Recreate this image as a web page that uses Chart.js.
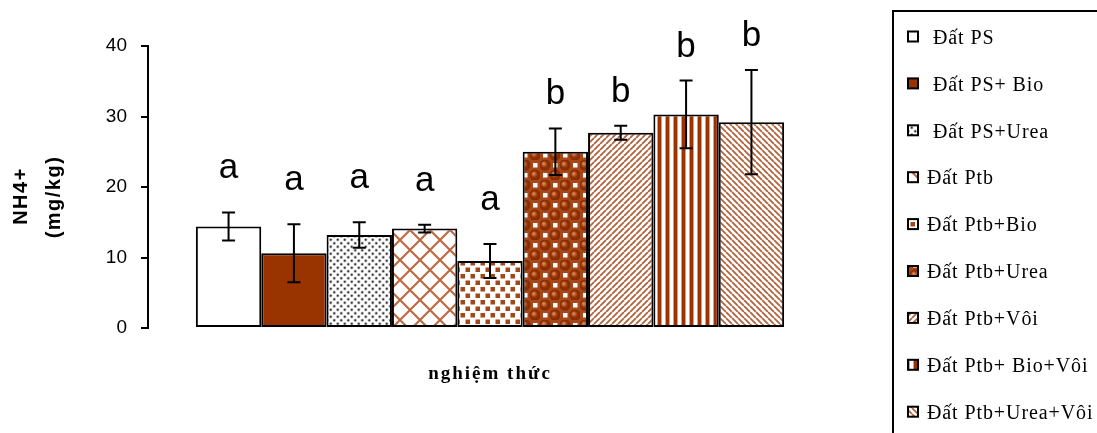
<!DOCTYPE html>
<html>
<head>
<meta charset="utf-8">
<script src="https://cdn.jsdelivr.net/npm/chart.js@4/dist/chart.umd.min.js"></script>
<style>
  html, body { margin: 0; padding: 0; background: #fff; }
  canvas { display: block; }
</style>
</head>
<body>
<canvas id="c" width="1097" height="433"></canvas>
<script>
// Treatments (legend entries, one bar each)
const treatments = [' Đất PS', ' Đất PS+ Bio', ' Đất PS+Urea', 'Đất Ptb', 'Đất Ptb+Bio',
                    'Đất Ptb+Urea', 'Đất Ptb+Vôi', 'Đất Ptb+ Bio+Vôi', 'Đất Ptb+Urea+Vôi'];
// NH4+ means (mg/kg) and error half-widths
const nh4Means  = [14.4, 10.6, 13.2, 14.1, 9.5, 25.0, 27.7, 30.3, 29.2];
const nh4Errors = [2.0, 4.1, 1.8, 0.55, 2.4, 3.3, 1.0, 4.8, 7.4];
// Statistical grouping letters
const groupLetters = ['a', 'a', 'a', 'a', 'a', 'b', 'b', 'b', 'b'];
// Y axis ticks
const yTicks = [0, 10, 20, 30, 40];

const BROWN = '#993300';
const canvas = document.getElementById('c');
const ctx0 = canvas.getContext('2d');

function tile(w, h, draw) {
  const c = document.createElement('canvas');
  c.width = w; c.height = h;
  const g = c.getContext('2d');
  g.fillStyle = '#fff';
  g.fillRect(0, 0, w, h);
  draw(g, w, h);
  return ctx0.createPattern(c, 'repeat');
}
function dot(g, x, y, r) { g.beginPath(); g.arc(x, y, r, 0, Math.PI * 2); g.fill(); }

const fills = [
  '#ffffff',
  BROWN,
  // fine dotted
  tile(7, 7, g => {
    g.fillStyle = '#c8c8c8'; dot(g, 1.75, 1.75, 1.8); dot(g, 5.25, 5.25, 1.8);
    g.fillStyle = '#333'; dot(g, 1.75, 1.75, 1.0); dot(g, 5.25, 5.25, 1.0);
  }),
  // diagonal crosshatch
  tile(20, 20, g => {
    g.strokeStyle = 'rgba(170,70,20,0.8)'; g.lineWidth = 2.2;
    g.beginPath();
    g.moveTo(0, 0); g.lineTo(20, 20);
    g.moveTo(20, 0); g.lineTo(0, 20);
    g.stroke();
  }),
  // small squares
  tile(10, 13, g => {
    g.fillStyle = 'rgba(153,51,0,0.9)';
    g.fillRect(0.5, 1, 4.5, 4.5); g.fillRect(5.5, 7.5, 4.5, 4.5);
  }),
  // spheres
  tile(20, 20, g => {
    g.fillStyle = '#a8471a'; g.fillRect(0, 0, 20, 20);
    g.fillStyle = '#fff'; g.fillRect(13, 3, 4.5, 4.5); g.fillRect(3, 13, 4.5, 4.5);
    [[5, 5], [15, 15]].forEach(([cx, cy]) => {
      const gr = g.createRadialGradient(cx - 1.5, cy - 1.5, 0.5, cx, cy, 5.8);
      gr.addColorStop(0, '#d98a60'); gr.addColorStop(0.5, BROWN); gr.addColorStop(1, '#7a2800');
      g.fillStyle = gr; dot(g, cx, cy, 5.5);
    });
  }),
  // upward diagonal stripes
  tile(6, 6, g => {
    g.strokeStyle = 'rgba(160,60,10,0.8)'; g.lineWidth = 1.8;
    g.beginPath();
    for (let k = -1; k <= 1; k++) { g.moveTo(k * 6, 6); g.lineTo(k * 6 + 6, 0); }
    g.stroke();
  }),
  // vertical stripes
  tile(8, 2, g => {
    g.fillStyle = '#d9a080'; g.fillRect(1, 0, 1, 2); g.fillRect(5, 0, 1, 2);
    g.fillStyle = BROWN; g.fillRect(2, 0, 3, 2);
  }),
  // downward diagonal stripes
  tile(6, 6, g => {
    g.strokeStyle = 'rgba(160,60,10,0.8)'; g.lineWidth = 1.8;
    g.beginPath();
    for (let k = -1; k <= 1; k++) { g.moveTo(k * 6, 0); g.lineTo(k * 6 + 6, 6); }
    g.stroke();
  })
];

const datasets = treatments.map((name, i) => ({
  label: name.trim(),
  data: [nh4Means[i]],
  backgroundColor: fills[i],
  borderColor: '#000',
  borderWidth: 2,
  borderSkipped: false,
  categoryPercentage: 0.86,
  barPercentage: 1.0
}));

const decorations = {
  id: 'decorations',
  afterDatasetsDraw(chart) {
    const { ctx, scales: { y } } = chart;
    ctx.save();
    chart.data.datasets.forEach((ds, i) => {
      const bar = chart.getDatasetMeta(i).data[0];
      const x = bar.x;
      const v = nh4Means[i], e = nh4Errors[i];
      const yt = y.getPixelForValue(v + e), yb = y.getPixelForValue(v - e);
      ctx.strokeStyle = '#000'; ctx.lineWidth = 2;
      ctx.beginPath();
      ctx.moveTo(x, yt); ctx.lineTo(x, yb);
      ctx.moveTo(x - 6.5, yt); ctx.lineTo(x + 6.5, yt);
      ctx.moveTo(x - 6.5, yb); ctx.lineTo(x + 6.5, yb);
      ctx.stroke();
      ctx.fillStyle = '#000';
      ctx.font = '35px "Liberation Sans", Arial, sans-serif';
      ctx.textAlign = 'center';
      ctx.textBaseline = 'alphabetic';
      const gap = groupLetters[i] === 'a' ? 34 : 24;
      ctx.fillText(groupLetters[i], x, yt - gap);
    });
    ctx.restore();
  },
  afterDraw(chart) {
    const ctx = chart.ctx;
    ctx.save();
    ctx.fillStyle = '#000';
    // y axis title (two lines, rotated)
    ctx.font = 'bold 20px "Liberation Sans", Arial, sans-serif';
    ctx.letterSpacing = '1.5px';
    ctx.textAlign = 'center';
    ctx.textBaseline = 'middle';
    ctx.save();
    ctx.translate(21, 196); ctx.rotate(-Math.PI / 2);
    ctx.fillText('NH4+', 0, 0);
    ctx.restore();
    ctx.save();
    ctx.translate(54, 197); ctx.rotate(-Math.PI / 2);
    ctx.fillText('(mg/kg)', 0, 0);
    ctx.restore();
    // x axis title
    ctx.font = 'bold 19px "Liberation Serif", "Times New Roman", serif';
    ctx.letterSpacing = '2px';
    ctx.textBaseline = 'alphabetic';
    ctx.fillText('nghiệm thức', 490, 379);
    // legend box
    ctx.letterSpacing = '0px';
    ctx.strokeStyle = '#000'; ctx.lineWidth = 2;
    ctx.strokeRect(893, 11, 400, 500);
    ctx.font = '20px "Liberation Serif", "Times New Roman", serif';
    ctx.letterSpacing = '0.9px';
    ctx.textAlign = 'left';
    ctx.textBaseline = 'middle';
    treatments.forEach((name, i) => {
      const yc = 38.5 + i * 46.9;
      ctx.fillStyle = fills[i];
      ctx.fillRect(908, yc - 7, 10, 10);
      ctx.strokeStyle = '#000'; ctx.lineWidth = 2;
      ctx.strokeRect(908, yc - 7, 10, 10);
      ctx.fillStyle = '#000';
      ctx.fillText(name, 927, yc);
    });
    ctx.restore();
  }
};

new Chart(canvas, {
  type: 'bar',
  data: { labels: [''], datasets },
  options: {
    responsive: false,
    animation: false,
    devicePixelRatio: 1,
    layout: { padding: { left: 0, top: 46, right: 265, bottom: 105 } },
    plugins: { legend: { display: false }, tooltip: { enabled: false } },
    scales: {
      x: { display: false, offset: true },
      y: {
        min: 0, max: 40,
        afterFit(scale) { scale.width = 148; },
        afterBuildTicks(scale) { scale.ticks = yTicks.map(v => ({ value: v })); },
        grid: { drawOnChartArea: false, drawTicks: true, tickLength: 7, color: '#000', lineWidth: 2 },
        border: { color: '#000', width: 2 },
        ticks: {
          color: '#000', padding: 14,
          font: { family: '"Liberation Sans", Arial, sans-serif', size: 19 }
        }
      }
    }
  },
  plugins: [decorations]
});
</script>
</body>
</html>
